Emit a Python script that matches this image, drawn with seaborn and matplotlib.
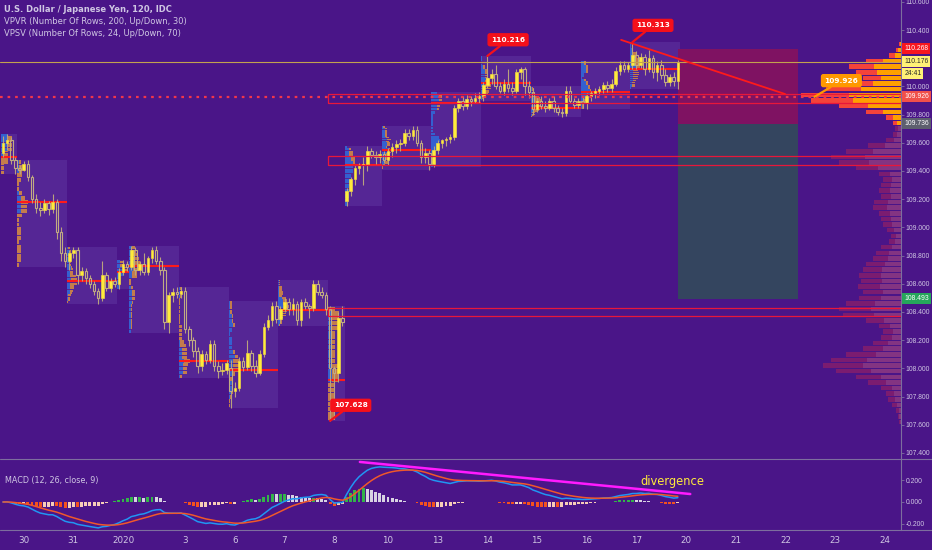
import numpy as np
import pandas as pd
import matplotlib
matplotlib.use("Agg")
import matplotlib.pyplot as plt
from matplotlib import font_manager as fm
from matplotlib.patches import Rectangle
from matplotlib.lines import Line2D
from matplotlib.transforms import blended_transform_factory
from matplotlib.ticker import FormatStrFormatter
import seaborn as sns

# ---------------- data (USD/JPY, 120 min candles) ----------------
open_ = [109.53, 109.60, 109.62, 109.48,
         109.42, 109.41, 109.45, 109.36, 109.20, 109.14, 109.12, 109.17, 109.13, 109.18, 108.97, 108.82,
         108.76, 108.82, 108.84, 108.66, 108.69, 108.64, 108.60, 108.55, 108.50, 108.66, 108.57, 108.62,
         108.60, 108.68, 108.74,
         108.72, 108.84, 108.70, 108.74, 108.68, 108.78, 108.84, 108.76, 108.70, 108.33, 108.52, 108.54,
         108.53, 108.55, 108.28, 108.20, 108.12, 108.02, 108.10, 108.06, 108.17, 108.02, 107.98, 107.99,
         108.00, 107.84, 107.86, 108.05, 108.01, 108.11, 108.02, 107.97, 108.10, 108.29, 108.34, 108.44,
         108.35, 108.42, 108.47, 108.42, 108.46, 108.34, 108.47, 108.44, 108.43, 108.60, 108.54, 108.52,
         108.42, 108.00, 107.97, 108.36,
         109.19, 109.26, 109.34, 109.42, 109.44, 109.45, 109.54, 109.51, 109.50,
         109.52, 109.48, 109.54, 109.57, 109.59, 109.60, 109.67, 109.65, 109.69, 109.60, 109.50, 109.53,
         109.45, 109.55, 109.60, 109.62, 109.63, 109.64, 109.85, 109.90, 109.86, 109.91, 109.90, 109.92,
         109.93, 110.01, 110.06, 110.09, 110.00, 109.97, 110.02, 109.99, 109.97, 110.10, 110.12, 110.00,
         109.96, 109.84, 109.90, 109.86, 109.85, 109.90, 109.85, 109.82, 109.81, 109.97, 109.90, 109.87,
         109.90, 109.88, 109.93, 109.95, 109.97, 109.98, 110.01, 109.99, 110.02, 110.11, 110.15, 110.12,
         110.15, 110.22, 110.15, 110.21, 110.12, 110.20, 110.10, 110.15, 110.08, 110.03, 110.07, 110.04]
high = [109.65, 109.66, 109.64, 109.50,
        109.44, 109.47, 109.48, 109.37, 109.24, 109.18, 109.20, 109.19, 109.24, 109.20, 109.00, 108.86,
        108.84, 108.86, 108.86, 108.72, 108.71, 108.66, 108.62, 108.57, 108.76, 108.68, 108.64, 108.65,
        108.71, 108.77, 108.76,
        108.87, 108.86, 108.76, 108.82, 108.80, 108.86, 108.87, 108.79, 108.72, 108.54, 108.57, 108.58,
        108.58, 108.58, 108.30, 108.22, 108.15, 108.13, 108.12, 108.20, 108.20, 108.05, 108.04, 108.06,
        108.06, 107.90, 108.08, 108.08, 108.20, 108.13, 108.06, 108.13, 108.32, 108.38, 108.47, 108.48,
        108.44, 108.50, 108.50, 108.50, 108.48, 108.49, 108.50, 108.46, 108.63, 108.63, 108.58, 108.54,
        108.44, 108.02, 108.40, 108.44,
        109.28, 109.36, 109.44, 109.46, 109.50, 109.58, 109.56, 109.54, 109.55,
        109.54, 109.56, 109.60, 109.62, 109.63, 109.70, 109.70, 109.72, 109.72, 109.62, 109.56, 109.55,
        109.58, 109.62, 109.63, 109.64, 109.66, 109.87, 109.92, 109.93, 109.94, 109.93, 109.95, 109.96,
        110.03, 110.216, 110.12, 110.15, 110.03, 110.05, 110.12, 110.03, 110.12, 110.14, 110.14, 110.04,
        109.99, 109.93, 109.93, 109.90, 109.92, 109.93, 109.87, 109.85, 110.00, 110.00, 109.92, 109.92,
        109.93, 109.95, 109.97, 109.99, 110.00, 110.03, 110.04, 110.05, 110.14, 110.18, 110.18, 110.17,
        110.313, 110.25, 110.24, 110.23, 110.26, 110.22, 110.18, 110.19, 110.12, 110.09, 110.10, 110.19]
low = [109.50, 109.55, 109.45, 109.38,
       109.38, 109.40, 109.33, 109.17, 109.10, 109.08, 109.10, 109.09, 109.10, 108.92, 108.76, 108.72,
       108.70, 108.78, 108.60, 108.62, 108.60, 108.57, 108.52, 108.46, 108.48, 108.55, 108.54, 108.58,
       108.56, 108.66, 108.69,
       108.70, 108.66, 108.66, 108.66, 108.66, 108.75, 108.74, 108.66, 108.28, 108.25, 108.47, 108.50,
       108.50, 108.25, 108.16, 108.08, 107.97, 107.98, 108.03, 108.04, 107.98, 107.93, 107.95, 107.96,
       107.72, 107.80, 107.84, 107.98, 107.99, 107.98, 107.94, 107.95, 108.08, 108.27, 108.30, 108.32,
       108.32, 108.40, 108.38, 108.38, 108.31, 108.30, 108.42, 108.36, 108.41, 108.52, 108.50, 108.38,
       107.628, 107.64, 107.90, 108.30,
       109.15, 109.22, 109.30, 109.38, 109.30, 109.40, 109.49, 109.45, 109.46,
       109.46, 109.44, 109.50, 109.53, 109.54, 109.58, 109.62, 109.62, 109.58, 109.46, 109.46, 109.41,
       109.43, 109.52, 109.56, 109.58, 109.60, 109.62, 109.82, 109.83, 109.84, 109.86, 109.88, 109.88,
       109.90, 109.99, 110.02, 109.98, 109.95, 109.94, 109.96, 109.94, 109.95, 110.05, 109.94, 109.92,
       109.80, 109.82, 109.84, 109.82, 109.83, 109.82, 109.80, 109.78, 109.79, 109.88, 109.85, 109.85,
       109.85, 109.84, 109.90, 109.92, 109.94, 109.95, 109.96, 109.96, 110.00, 110.08, 110.10, 110.10,
       110.12, 110.12, 110.13, 110.08, 110.10, 110.06, 110.04, 110.05, 110.00, 110.00, 110.00, 109.98]
close = [109.60, 109.62, 109.48, 109.42,
         109.41, 109.45, 109.36, 109.20, 109.14, 109.12, 109.17, 109.13, 109.18, 108.97, 108.82, 108.76,
         108.82, 108.84, 108.66, 108.69, 108.64, 108.60, 108.55, 108.50, 108.66, 108.57, 108.62, 108.60,
         108.68, 108.74, 108.72,
         108.84, 108.70, 108.74, 108.68, 108.78, 108.84, 108.76, 108.70, 108.33, 108.52, 108.54, 108.53,
         108.55, 108.28, 108.20, 108.12, 108.02, 108.10, 108.06, 108.17, 108.02, 107.98, 107.99, 108.04,
         107.84, 107.86, 108.05, 108.01, 108.11, 108.02, 107.97, 108.10, 108.29, 108.34, 108.44, 108.35,
         108.42, 108.47, 108.42, 108.46, 108.34, 108.47, 108.44, 108.43, 108.60, 108.54, 108.52, 108.42,
         108.00, 107.97, 108.36, 108.33,
         109.26, 109.34, 109.42, 109.44, 109.45, 109.54, 109.51, 109.50, 109.52,
         109.48, 109.54, 109.57, 109.59, 109.60, 109.67, 109.65, 109.69, 109.60, 109.50, 109.53, 109.45,
         109.55, 109.60, 109.62, 109.63, 109.64, 109.85, 109.90, 109.86, 109.91, 109.90, 109.92, 109.93,
         110.01, 110.06, 110.09, 110.00, 109.97, 110.02, 109.99, 109.97, 110.10, 110.12, 110.00, 109.96,
         109.84, 109.90, 109.86, 109.85, 109.90, 109.85, 109.82, 109.81, 109.97, 109.90, 109.87, 109.90,
         109.88, 109.93, 109.95, 109.97, 109.98, 110.01, 109.99, 110.02, 110.11, 110.15, 110.12, 110.15,
         110.22, 110.15, 110.21, 110.12, 110.20, 110.10, 110.15, 110.08, 110.03, 110.07, 110.04, 110.176]

# trading sessions (first bar of each session)
session_start = [0, 4, 16, 28, 31, 43, 55, 67, 79, 83, 92, 104, 116, 128, 140, 152]
day_labels = ["30", "31", "2020", "3", "6", "7", "8", "10", "13", "14", "15", "16", "17",
              "20", "21", "22", "23", "24"]
day_label_bar = [4, 16, 28, 43, 55, 67, 79, 92, 104, 116, 128, 140, 152, 164, 176, 188, 200, 212]

# visible range volume profile (rows of 0.04 from 107.60)
vp_total = [2, 3, 5, 9, 13, 15, 20, 33, 45, 65,
            78, 70, 55, 38, 28, 20, 18, 22, 35, 58,
            62, 55, 42, 38, 43, 40, 42, 38, 35, 28,
            25, 20, 12, 10, 14, 18, 20, 22, 28, 27,
            20, 22, 20, 18, 22, 45, 62, 70, 55, 33,
            15, 8, 6, 8, 15, 35, 62, 90, 100, 75,
            55, 38, 45, 52, 35, 12, 5, 2]
vp_up = [1, 2, 2, 4, 6, 7, 9, 15, 20, 30,
         38, 34, 25, 18, 13, 9, 8, 11, 17, 27,
         30, 26, 20, 18, 21, 19, 20, 19, 16, 13,
         12, 9, 6, 5, 7, 9, 10, 11, 14, 13,
         10, 11, 10, 9, 11, 23, 32, 36, 28, 16,
         7, 4, 3, 4, 8, 18, 33, 48, 52, 40,
         28, 20, 24, 27, 18, 6, 3, 1]
vp_base, vp_step = 107.60, 0.04
va_low, va_high = 109.70, 110.30
vp_poc = 109.926

# drawings
zones = [(109.946, 109.882), (109.506, 109.442), (108.428, 108.372)]
zone_start_bar = 79
trend_x = [149.3, 188.9]
trend_y = [110.33, 109.946]
pos_stop, pos_entry, pos_target = 110.268, 109.736, 108.493
pos_bars = (163, 192)
div_x = [86.2, 166.0]
div_y = [0.372, 0.074]
countdown = "24:41"

# ---------------- style ----------------
BG = '#4A1588'
AXC = '#7D6E9E'
TXT = '#CFC6E3'
YEL = '#FFEB3B'
WICK = '#B9A27E'
HOLLOW = '#C2AC82'

sns.set_theme(style='dark')
plt.rcParams['font.family'] = ['DejaVu Sans']
installed = {f.name for f in fm.fontManager.ttflist}
if 'Liberation Sans Narrow' in installed:
    NARROW, AX_FS = 'Liberation Sans Narrow', 5.9
elif 'Liberation Sans' in installed:
    NARROW, AX_FS = 'Liberation Sans', 4.9
else:
    NARROW, AX_FS = 'DejaVu Sans', 4.3

fig = plt.figure(figsize=(9.32, 5.5), dpi=100, facecolor=BG)
W = 901 / 932
ax = fig.add_axes([0, 1 - 459 / 550, W, 459 / 550])
ax2 = fig.add_axes([0, 20 / 550, W, 70 / 550], sharex=ax)
ax.patch.set_visible(False)
ax2.set_facecolor(BG)
ax.grid(False)
ax2.grid(False)

o = np.array(open_); h = np.array(high); l = np.array(low); c = np.array(close)
n = len(c)
idx = np.arange(n)

# ---------------- VPVR on a twin axis (behind) ----------------
ax_vp = ax.twiny()
ax_vp.set_zorder(ax.get_zorder() - 1)
ax_vp.set_xlim(901, 0)
vt = np.array(vp_total, float); vu = np.array(vp_up, float); vd = vt - vu
rows = vp_base + vp_step * (np.arange(len(vt)) + 0.5)
bright = (rows >= va_low) & (rows <= va_high)
hgt = vp_step * 0.8
ax_vp.barh(rows[bright], vu[bright], left=0, height=hgt, color='#FFA000', lw=0)
ax_vp.barh(rows[bright], vd[bright], left=vu[bright], height=hgt, color='#F4433A', lw=0)
ax_vp.barh(rows[~bright], vu[~bright], left=0, height=hgt, color='#D4607A', alpha=0.42, lw=0)
ax_vp.barh(rows[~bright], vd[~bright], left=vu[~bright], height=hgt, color='#C02850', alpha=0.42, lw=0)
ax_vp.set_xticks([]); ax_vp.grid(False)
for s in ax_vp.spines.values():
    s.set_visible(False)

# ---------------- session boxes and profiles ----------------
bounds = session_start + [n]
for s0, e0 in zip(bounds[:-1], bounds[1:]):
    lo, hi = l[s0:e0].min(), h[s0:e0].max()
    ax.add_patch(Rectangle((s0 - 0.5, lo), e0 - s0, hi - lo, fc='#6A48B0', alpha=0.35, lw=0, zorder=1))
    edges = np.linspace(lo, hi, 25)
    cen = (edges[:-1] + edges[1:]) / 2
    up_cnt = np.zeros(24); dn_cnt = np.zeros(24)
    for i in range(s0, e0):
        ov = (edges[1:] > l[i]) & (edges[:-1] < h[i])
        if c[i] >= o[i]:
            up_cnt += ov
        else:
            dn_cnt += ov
    tot = up_cnt + dn_cnt
    sc = 2.6 / tot.max()
    rh = (hi - lo) / 24 * 0.85
    ax.barh(cen, up_cnt * sc, left=s0 - 0.5, height=rh, color='#2F6BDB', alpha=0.85, lw=0, zorder=2)
    ax.barh(cen, dn_cnt * sc, left=s0 - 0.5 + up_cnt * sc, height=rh, color='#D98C3F', alpha=0.85, lw=0, zorder=2)
    poc = cen[np.argmax(tot)]
    ax.hlines(poc, s0 - 0.5, e0 - 0.5, color='#FF1A1A', lw=1.5, zorder=3)

# ---------------- position tool ----------------
ax.add_patch(Rectangle((pos_bars[0], pos_entry), pos_bars[1] - pos_bars[0], pos_stop - pos_entry,
                       fc='#7F1262', lw=0, zorder=2))
ax.add_patch(Rectangle((pos_bars[0], pos_target), pos_bars[1] - pos_bars[0], pos_entry - pos_target,
                       fc='#34455F', lw=0, zorder=2))

# ---------------- zones / lines ----------------
for zt, zb in zones:
    ax.add_patch(Rectangle((zone_start_bar - 0.5, zb), 300, zt - zb, fill=False,
                           ec='#E8173A', lw=0.9, zorder=6))
ax.axhline(vp_poc, color='#F2364A', lw=1.6, ls=(0, (1.2, 2.2)), zorder=6)
ax.axhline(c[-1], color='#C4A24E', lw=0.8, zorder=6)
ax.plot(trend_x, trend_y, color='#FF1A1A', lw=1.3, zorder=7)

# ---------------- candles ----------------
top = np.maximum(o, c); bot = np.minimum(o, c)
upc = c >= o
ax.vlines(idx, top, h, color=WICK, lw=0.8, zorder=4)
ax.vlines(idx, l, bot, color=WICK, lw=0.8, zorder=4)
body = np.maximum(top - bot, 0.008)
ax.bar(idx[upc], body[upc], bottom=bot[upc], width=0.62, color=YEL, edgecolor=YEL, lw=0.4, zorder=5)
ax.bar(idx[~upc], body[~upc], bottom=bot[~upc], width=0.62, facecolor='none',
       edgecolor=HOLLOW, lw=0.8, zorder=5)

# ---------------- callouts ----------------
def callout(x, y, tx, ty, text, color):
    ax.annotate(text, xy=(x, y), xytext=(tx, ty), fontsize=5.3, color='white', fontweight='bold',
                ha='center', va='center', zorder=15,
                bbox=dict(boxstyle='round,pad=0.4,rounding_size=0.25', fc=color, ec=color),
                arrowprops=dict(arrowstyle='-', color=color, lw=1.6, shrinkA=0, shrinkB=0))

ih = int(np.argmax(h[:140])); ih2 = int(np.argmax(h)); il = int(np.argmin(l))
callout(ih, h[ih], ih + 5, h[ih] + 0.115, f"{h[ih]:.3f}", '#F5101A')
callout(ih2, h[ih2], ih2 + 5, h[ih2] + 0.12, f"{h[ih2]:.3f}", '#F5101A')
callout(il, l[il], il + 5, l[il] + 0.11, f"{l[il]:.3f}", '#F5101A')
callout(196, vp_poc, 202.5, vp_poc + 0.115, f"{vp_poc:.3f}", '#FF9800')

# ---------------- axes formatting ----------------
ax.set_xlim(-0.72, 216.9)
ax.set_ylim(107.357, 110.613)
price_ticks = [107.4, 107.6, 107.8, 108.0, 108.2, 108.4, 108.6, 108.8, 109.0, 109.2, 109.4,
               109.6, 109.8, 110.0, 110.4, 110.6]
ax.yaxis.tick_right()
ax.set_yticks(price_ticks)
ax.yaxis.set_major_formatter(FormatStrFormatter('%.3f'))
ax.tick_params(axis='y', colors=TXT, labelsize=AX_FS, length=2, width=0.6, pad=1.5, direction='out')
ax.tick_params(axis='y', color=AXC)
for t in ax.get_yticklabels():
    t.set_fontfamily(NARROW)
ax.tick_params(axis='x', bottom=False, labelbottom=False, top=False)
for side in ['top', 'left', 'bottom']:
    ax.spines[side].set_visible(False)
    ax2.spines[side].set_visible(False)
for a in (ax, ax2):
    a.spines['right'].set_color(AXC)
    a.spines['right'].set_linewidth(0.8)

# price tags on right axis
bt = blended_transform_factory(ax.transAxes, ax.transData)
def tag(y, text, fc, tc):
    ax.text(1.0035, y, text, transform=bt, ha='left', va='center', fontsize=AX_FS, color=tc,
            family=NARROW,
            bbox=dict(boxstyle='square,pad=0.3', fc=fc, ec='none'), zorder=20, clip_on=False)

tag(pos_stop, f"{pos_stop:.3f}", '#F7171F', 'white')
tag(c[-1], f"{c[-1]:.3f}", '#FFF176', '#2A2A2A')
tag(c[-1] - 0.087, countdown, '#FFF176', '#2A2A2A')
tag(vp_poc, f"{vp_poc:.3f}", '#F0504A', 'white')
tag(pos_entry, f"{pos_entry:.3f}", '#5D5F6E', 'white')
tag(pos_target, f"{pos_target:.3f}", '#26A65B', 'white')

# ---------------- MACD ----------------
cs = pd.Series(close)
macd = cs.ewm(span=12, adjust=False).mean() - cs.ewm(span=26, adjust=False).mean()
signal = macd.ewm(span=9, adjust=False).mean()
hist = (macd - signal).values
prev = np.r_[hist[0], hist[:-1]]
hcol = np.where(hist >= 0, np.where(hist >= prev, '#33B34A', '#D8D2E2'),
                np.where(hist <= prev, '#F4511E', '#F7CDB8'))
ax2.bar(idx, hist, width=0.7, color=hcol, lw=0, zorder=2)
sns.lineplot(x=idx, y=macd.values, ax=ax2, color='#2196F3', lw=1.1, zorder=3)
sns.lineplot(x=idx, y=signal.values, ax=ax2, color='#F0582A', lw=1.1, zorder=3)
ax2.plot(div_x, div_y, color='#FF1AFF', lw=1.8, zorder=4)
ax2.text(154, 0.195, "divergence", color=YEL, fontsize=8.3, ha='left', va='center', zorder=5)
ax2.set_ylim(-0.26, 0.39)
ax2.yaxis.tick_right()
ax2.set_yticks([-0.2, 0.0, 0.2])
ax2.yaxis.set_major_formatter(FormatStrFormatter('%.3f'))
ax2.tick_params(axis='y', colors=TXT, labelsize=AX_FS, length=2, width=0.6, pad=1.5)
ax2.tick_params(axis='y', color=AXC)
for t in ax2.get_yticklabels():
    t.set_fontfamily(NARROW)
ax2.set_xticks([b + 1 for b in day_label_bar])
ax2.set_xticklabels(day_labels)
ax2.tick_params(axis='x', colors=TXT, labelsize=6.3, length=0, pad=4)
ax2.set_xlabel(''); ax2.set_ylabel('')

# separators
for yp in (459, 530):
    fig.add_artist(Line2D([0, 1], [1 - yp / 550] * 2, color=AXC, lw=0.8))

# legend texts
fig.text(4 / 932, 1 - 10 / 550, "U.S. Dollar / Japanese Yen, 120, IDC", color=TXT, fontsize=6.0,
         fontweight='bold', ha='left', va='center')
fig.text(4 / 932, 1 - 22 / 550, "VPVR (Number Of Rows, 200, Up/Down, 30)", color=TXT, fontsize=6.0,
         ha='left', va='center')
fig.text(4 / 932, 1 - 33 / 550, "VPSV (Number Of Rows, 24, Up/Down, 70)", color=TXT, fontsize=6.0,
         ha='left', va='center')
fig.text(5 / 932, 1 - 480 / 550, "MACD (12, 26, close, 9)", color=TXT, fontsize=5.8,
         ha='left', va='center')

fig.savefig('out.png', dpi=100, facecolor=BG)
